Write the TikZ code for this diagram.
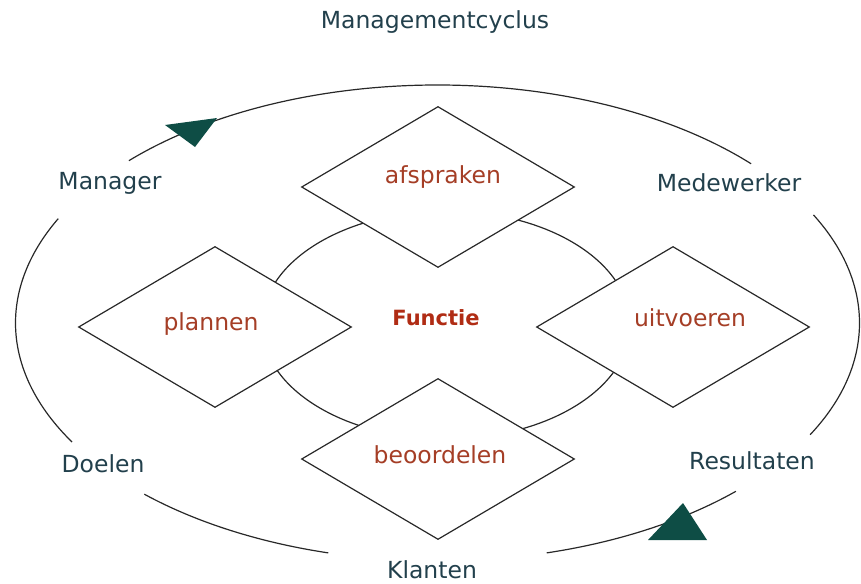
\documentclass[tikz,border=0pt]{standalone}
\usepackage{fontspec}
\setmainfont{DejaVu Sans}
\usepackage{tikz}
\usetikzlibrary{shapes.geometric,calc}

\definecolor{linecol}{RGB}{40,40,40}
\definecolor{rolecol}{RGB}{34,64,76}
\definecolor{partcol}{RGB}{165,62,38}
\definecolor{corecol}{RGB}{176,44,20}
\definecolor{tipcol}{RGB}{14,77,69}

\begin{document}
\begin{tikzpicture}[
    x = 1pt, y = -1pt,
    cycleline/.style = {draw=linecol, line width=1.2pt},
    part/.style = {diamond, draw=linecol, fill=white, line width=1.2pt, minimum width=273pt, minimum height=161pt, inner sep=0pt},
    role/.style = {text=rolecol, font=\fontsize{23.5}{28}\selectfont},
    partlabel/.style = {text=partcol, font=\fontsize{23.5}{28}\selectfont},
    tip/.style = {fill=tipcol}
]
    \useasboundingbox (0,0) rectangle (861,583);

    % Title
    \node[role] (title) at (435,22) {Managementcyclus};

    % Outer cycle
    \coordinate (c) at (437.5,323);
    \draw[cycleline] ($(c)+(-137:422 and 238)$) arc[start angle=-137, end angle=-42, x radius=422, y radius=238];
    \draw[cycleline] ($(c)+(-27:422 and 238)$) arc[start angle=-27, end angle=28, x radius=422, y radius=238];
    \draw[cycleline] ($(c)+(45:422 and 238)$) arc[start angle=45, end angle=75, x radius=422, y radius=238];
    \draw[cycleline] ($(c)+(105:422 and 238)$) arc[start angle=105, end angle=134, x radius=422, y radius=238];
    \draw[cycleline] ($(c)+(150:422 and 238)$) arc[start angle=150, end angle=206, x radius=422, y radius=238];

    % Arrow heads
    \fill[tip] (165,125) -- (217,118) -- (195,147) -- cycle;
    \fill[tip] (648,540) -- (707,540) -- (683,503) -- cycle;

    % Roles
    \node[role] (manager) at (110,183) {Manager};
    \node[role] (medewerker) at (729,183) {Medewerker};
    \node[role] (doelen) at (103,464) {Doelen};
    \node[role] (resultaten) at (752,461) {Resultaten};
    \node[role] (klanten) at (432,570) {Klanten};

    % Inner cycle
    \draw[cycleline] (446,325) ellipse [x radius=184, y radius=114];

    % Steps
    \node[part, label={[partlabel, xshift=5pt, yshift=10pt]center:afspraken}] (afspraken) at (438,187) {};
    \node[part, label={[partlabel, xshift=-4pt, yshift=3pt]center:plannen}] (plannen) at (215,327) {};
    \node[part, label={[partlabel, xshift=17pt, yshift=9pt]center:uitvoeren}] (uitvoeren) at (673,327) {};
    \node[part, label={[partlabel, xshift=2pt, yshift=4pt]center:beoordelen}] (beoordelen) at (438,459) {};

    % Centre
    \node[text=corecol, font=\fontsize{21}{26}\selectfont\bfseries] (functie) at (436,318) {Functie};

\end{tikzpicture}
\end{document}
